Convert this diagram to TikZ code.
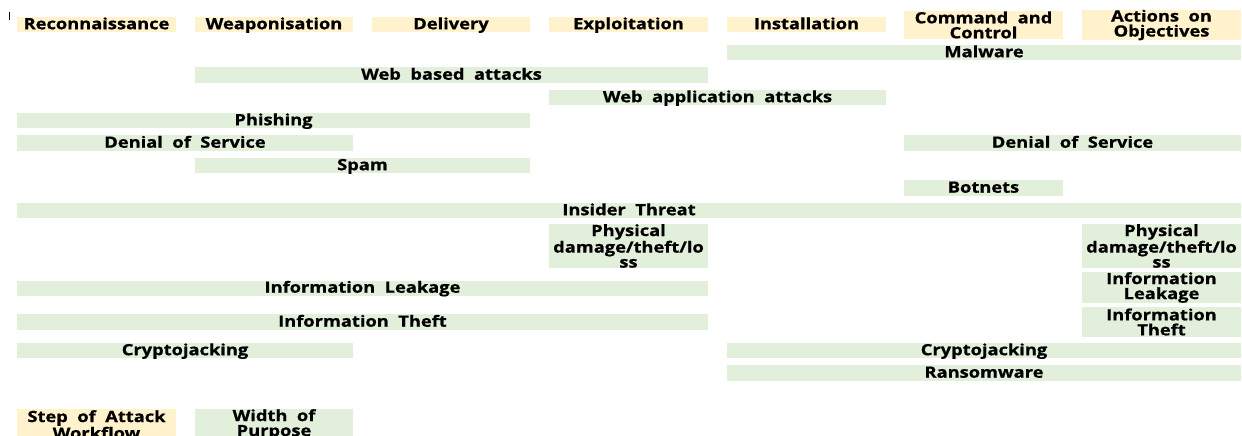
\documentclass[tikz,border=0pt]{standalone}
\usepackage{fontspec}
\newfontfamily\lblfont{Open Sans}[WordSpace=2.0, FakeStretch=1.18, BoldFeatures={FakeBold=0.8}]
\definecolor{stepfill}{HTML}{FFF2CC}
\definecolor{purposefill}{HTML}{E2EFDA}
\tikzset{
  cell/.style={inner sep=0pt, outer sep=0pt, align=center,
    font=\lblfont\bfseries\fontsize{15.5}{15}\selectfont, text=black},
  oneline/.style={text height=12.2pt, text depth=2.8pt},
  stepcell/.style={cell, fill=stepfill},
  purposecell/.style={cell, fill=purposefill}
}
% \bx{name}{left}{right}{top}{bottom}{text}{style}
\newcommand\bx[7]{%
  \node[#7, minimum width={(#3-#2)*1pt}, minimum height={(#5-#4)*1pt}]
    (#1) at ({(#2+#3)/2},{(#4+#5)/2}) {#6};}
\begin{document}
\begin{tikzpicture}[x=1pt,y=-1pt]
\useasboundingbox (0,0) rectangle (1242,436);
\clip (0,0) rectangle (1242,436);
% cursor mark
\draw[line width=0.8pt] (9.5,12) -- (9.5,20);
% attack workflow steps
\bx{recon}{17}{176}{17}{32}{Reconnaissance}{stepcell,oneline}
\bx{weapon}{195}{353}{17}{32}{Weaponisation}{stepcell,oneline}
\bx{deliv}{372}{530}{17}{32}{Delivery}{stepcell,oneline}
\bx{exploit}{549}{708}{17}{32}{Exploitation}{stepcell,oneline}
\bx{install}{727}{886}{17}{32}{Installation}{stepcell,oneline}
\bx{cnc}{904}{1063}{11}{39}{Command and\\Control}{stepcell}
\bx{actions}{1082}{1241}{11}{39}{Actions on\\Objectives}{stepcell}
% threats spanning the steps
\bx{malware}{727}{1241}{45}{60}{Malware}{purposecell,oneline}
\bx{webbased}{195}{708}{68}{82}{Web based attacks}{purposecell,oneline}
\bx{webapp}{549}{886}{90}{105}{Web application attacks}{purposecell,oneline}
\bx{phishing}{17}{530}{113}{128}{Phishing}{purposecell,oneline}
\bx{dosA}{17}{353}{135}{151}{Denial of Service}{purposecell,oneline}
\bx{dosB}{904}{1241}{135}{151}{Denial of Service}{purposecell,oneline}
\bx{spam}{195}{530}{158}{173}{Spam}{purposecell,oneline}
\bx{botnets}{904}{1063}{180}{196}{Botnets}{purposecell,oneline}
\bx{insider}{17}{1241}{203}{218}{Insider Threat}{purposecell,oneline}
\bx{physA}{549}{708}{224}{268}{Physical\\damage/theft/lo\\ss}{purposecell}
\bx{physB}{1082}{1241}{224}{268}{Physical\\damage/theft/lo\\ss}{purposecell}
\bx{leakA}{17}{708}{281}{295}{Information Leakage}{purposecell,oneline}
\bx{leakB}{1082}{1241}{273}{302}{Information\\Leakage}{purposecell}
\bx{theftA}{17}{708}{314}{330}{Information Theft}{purposecell,oneline}
\bx{theftB}{1082}{1241}{307}{337}{Information\\Theft}{purposecell}
\bx{cryptoA}{17}{353}{343}{358}{Cryptojacking}{purposecell,oneline}
\bx{cryptoB}{727}{1241}{343}{358}{Cryptojacking}{purposecell,oneline}
\bx{ransom}{727}{1241}{365}{381}{Ransomware}{purposecell,oneline}
% legend
\bx{legstep}{17}{176}{409}{440}{Step of Attack\\Workflow}{stepcell}
\bx{legpurpose}{195}{353}{409}{440}{Width of\\Purpose}{purposecell}
\end{tikzpicture}
\end{document}
